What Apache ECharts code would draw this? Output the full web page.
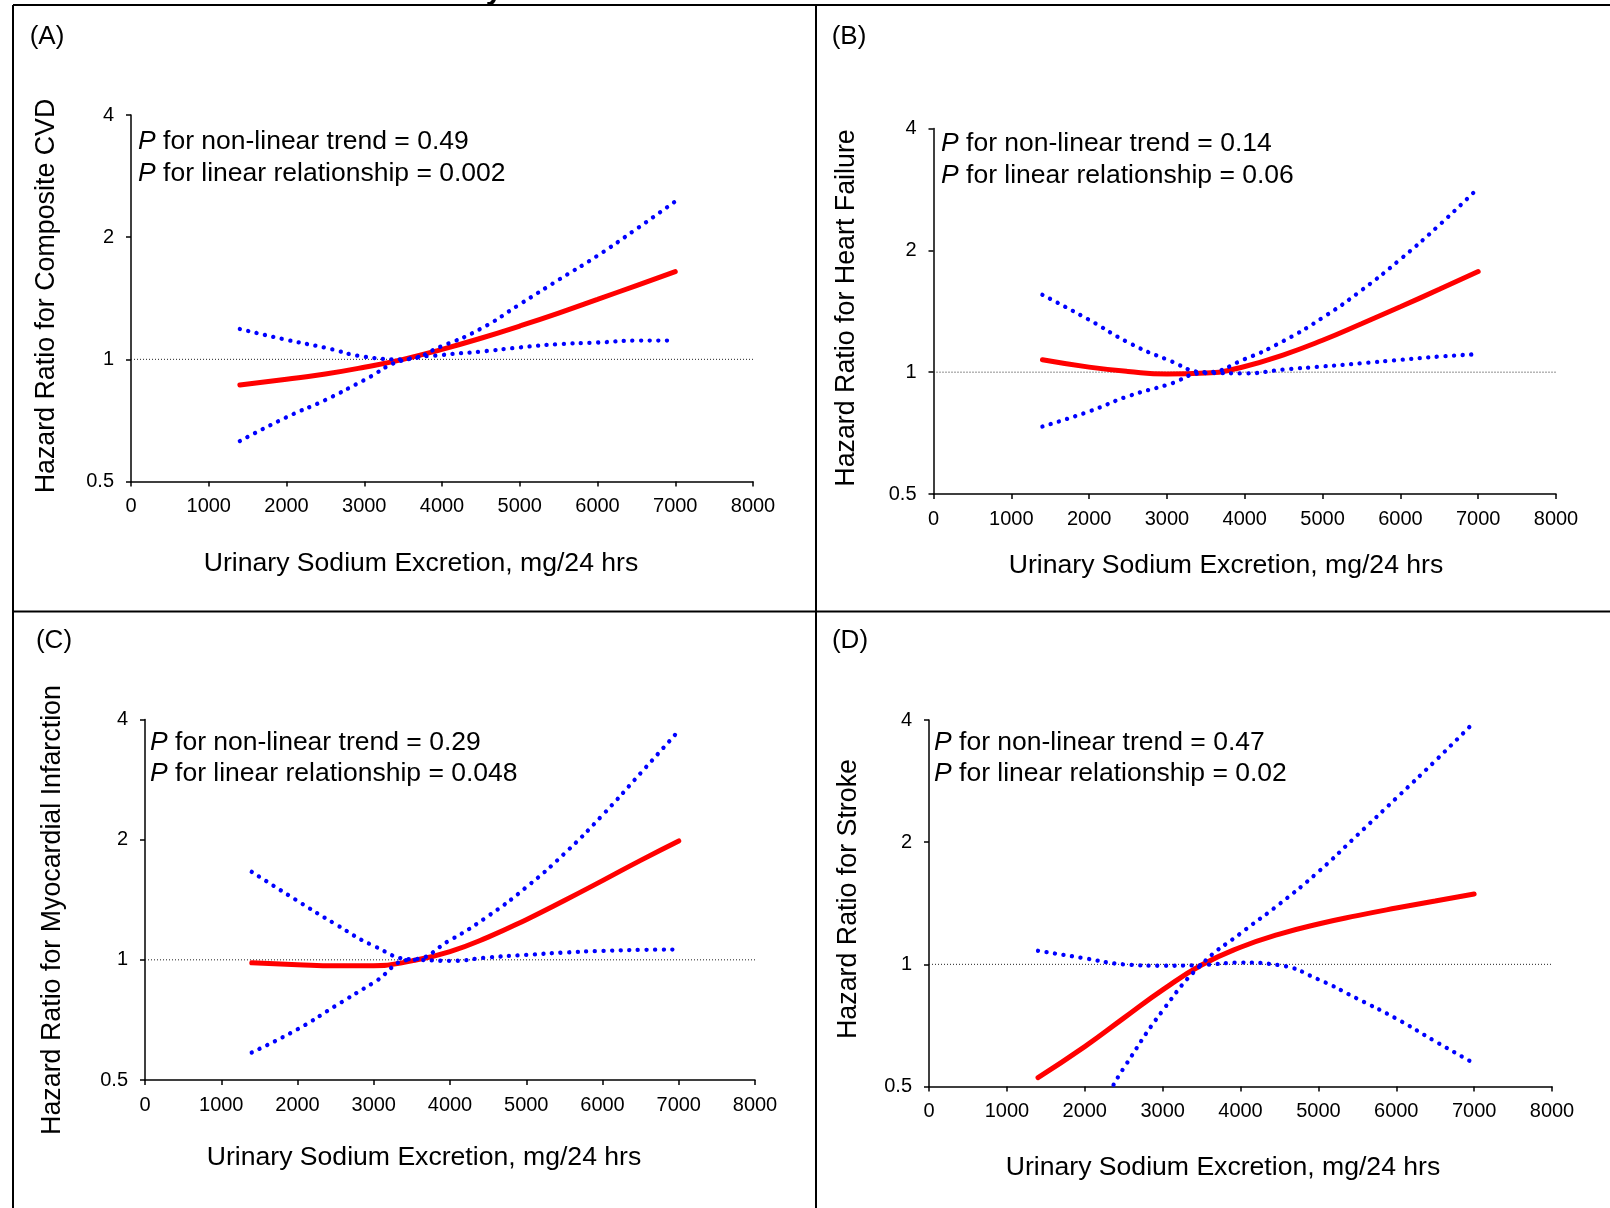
<!DOCTYPE html>
<html>
<head>
<meta charset="utf-8">
<title>Urinary sodium excretion and hazard ratios</title>
<script src="https://cdn.jsdelivr.net/npm/echarts@6/dist/echarts.min.js"></script>
<style>
    html, body { margin: 0; padding: 0; background: #fff; }
    #chart { width: 1610px; height: 1208px; }
</style>
</head>
<body>
<div id="chart"></div>
<script>
    var sodium = [1400, 2000, 2500, 3000, 3500, 4000, 4500, 5000, 5500, 6000, 6500, 7000];

    // (A) composite CVD
    var cvdHR    = [0.865, 0.893, 0.92, 0.956, 1.0, 1.058, 1.127, 1.208, 1.30, 1.405, 1.52, 1.645];
    var cvdLower = [0.629, 0.72, 0.794, 0.889, 0.995, 1.025, 1.045, 1.07, 1.09, 1.10, 1.112, 1.112];
    var cvdUpper = [1.188, 1.117, 1.068, 1.015, 1.0, 1.078, 1.19, 1.366, 1.57, 1.80, 2.095, 2.45];

    // (B) heart failure
    var hfHR    = [1.073, 1.029, 1.004, 0.99, 0.995, 1.033, 1.104, 1.199, 1.317, 1.451, 1.602, 1.773];
    var hfLower = [0.734, 0.80, 0.872, 0.93, 0.995, 0.993, 1.015, 1.033, 1.052, 1.073, 1.093, 1.108];
    var hfUpper = [1.553, 1.347, 1.185, 1.075, 1.0, 1.077, 1.195, 1.363, 1.593, 1.901, 2.309, 2.85];

    // (C) myocardial infarction
    var miHR    = [0.983, 0.972, 0.966, 0.966, 0.994, 1.049, 1.14, 1.261, 1.408, 1.579, 1.775, 1.985];
    var miLower = [0.586, 0.67, 0.767, 0.877, 1.0, 0.994, 1.014, 1.029, 1.043, 1.053, 1.059, 1.061];
    var miUpper = [1.661, 1.405, 1.228, 1.084, 1.004, 1.12, 1.287, 1.52, 1.845, 2.304, 2.936, 3.75];

    // (D) stroke - the rising bound only enters the plot at ~2370
    var strokeHR      = [0.526, 0.627, 0.737, 0.865, 0.996, 1.102, 1.187, 1.257, 1.318, 1.376, 1.433, 1.49];
    var strokeFalling = [1.08, 1.035, 1.0, 0.992, 0.996, 1.01, 0.995, 0.918, 0.823, 0.735, 0.646, 0.57];
    var strokeRiseX   = [2370, 2500, 3000, 3500, 4000, 4500, 5000, 5500, 6000, 6500, 7000];
    var strokeRising  = [0.505, 0.555, 0.769, 1.0, 1.192, 1.408, 1.691, 2.081, 2.567, 3.17, 3.95];

    var refLineX = [0, 8000];
    var panelLetters = ['(A)', '(B)', '(C)', '(D)'];
    var yTitles = ['Hazard Ratio for Composite CVD', 'Hazard Ratio for Heart Failure',
                   'Hazard Ratio for Myocardial Infarction', 'Hazard Ratio for Stroke'];
    var xTitle = 'Urinary Sodium Excretion, mg/24 hrs';
    var pNonLinear = ['0.49', '0.14', '0.29', '0.47'];
    var pLinear = ['0.002', '0.06', '0.048', '0.02'];

    var FONT = "'Liberation Sans', Arial, Helvetica, sans-serif";

    var grids = [
        {left: 131, top: 115, width: 622, height: 366.5},
        {left: 933.5, top: 128.5, width: 622.5, height: 365.5},
        {left: 145, top: 719.5, width: 610, height: 360.5},
        {left: 929, top: 720, width: 623, height: 366.5}
    ];

    function pairs(xs, ys) {
        var out = [];
        for (var i = 0; i < ys.length; i++) out.push([xs[i], ys[i]]);
        return out;
    }

    function redLine(i, xs, ys) {
        return {
            type: 'line', xAxisIndex: i, yAxisIndex: i, data: pairs(xs, ys),
            showSymbol: false, smooth: 0.5, z: 3,
            lineStyle: {color: '#ff0000', width: 5, cap: 'round'}
        };
    }
    function blueDots(i, xs, ys) {
        return {
            type: 'line', xAxisIndex: i, yAxisIndex: i, data: pairs(xs, ys),
            showSymbol: false, smooth: 0.5, z: 4,
            lineStyle: {color: '#0000ff', width: 4.3, type: [0.1, 8.5], cap: 'round'}
        };
    }
    function refLine(i) {
        return {
            type: 'line', xAxisIndex: i, yAxisIndex: i,
            data: pairs(refLineX, [1, 1]), showSymbol: false, z: 2,
            lineStyle: {color: '#222', width: 1, type: [1, 2]}
        };
    }

    var xAxes = [], yAxes = [];
    for (var i = 0; i < 4; i++) {
        xAxes.push({
            gridIndex: i, type: 'value', min: 0, max: 8000, interval: 1000,
            axisLine: {show: true, onZero: false, lineStyle: {color: '#000', width: 1.5}},
            axisTick: {show: true, length: 5, lineStyle: {color: '#000', width: 1.5}},
            axisLabel: {
                color: '#000', fontSize: 20, fontFamily: FONT, margin: 15,
                formatter: function (v) { return String(v); }
            },
            splitLine: {show: false}
        });
        yAxes.push({
            gridIndex: i, type: 'log', logBase: 2, min: 0.5, max: 4,
            axisLine: {show: true, onZero: false, lineStyle: {color: '#000', width: 1.5}},
            axisTick: {show: true, length: 5, lineStyle: {color: '#000', width: 1.5}},
            axisLabel: {
                color: '#000', fontSize: 20, fontFamily: FONT, margin: 17,
                formatter: function (v) { return String(+(+v).toFixed(2)); }
            },
            splitLine: {show: false}
        });
    }

    var series = [
        refLine(0), redLine(0, sodium, cvdHR), blueDots(0, sodium, cvdLower), blueDots(0, sodium, cvdUpper),
        refLine(1), redLine(1, sodium, hfHR), blueDots(1, sodium, hfLower), blueDots(1, sodium, hfUpper),
        refLine(2), redLine(2, sodium, miHR), blueDots(2, sodium, miLower), blueDots(2, sodium, miUpper),
        refLine(3), redLine(3, sodium, strokeHR), blueDots(3, sodium, strokeFalling), blueDots(3, strokeRiseX, strokeRising)
    ];

    // text placement per panel
    var letterPos = [[47, 37], [849, 37], [54, 641], [850, 641]];
    var yTitlePos = [[47, 296], [847, 308], [53, 910], [849, 899]];
    var xTitlePos = [[421, 564], [1226, 566], [424, 1158], [1223, 1168]];
    var pPos = [[138, 142, 174], [941, 144, 176], [150, 743, 774], [934, 743, 774]];

    function txt(x, y, text, size, align, rot, extra) {
        var st = {
            text: text, fill: '#000', fontSize: size, fontFamily: FONT,
            align: align, textAlign: align, verticalAlign: 'middle', textVerticalAlign: 'middle'
        };
        if (extra) for (var k in extra) st[k] = extra[k];
        return {type: 'text', x: x, y: y, rotation: rot || 0, style: st, z: 10};
    }
    function ln(x1, y1, x2, y2) {
        return {type: 'line', shape: {x1: x1, y1: y1, x2: x2, y2: y2},
                style: {stroke: '#000', lineWidth: 2}, z: 10};
    }

    var graphics = [
        ln(13, 5, 1610, 5), ln(13, 5, 13, 1208), ln(816, 5, 816, 1208), ln(13, 611.5, 1610, 611.5),
        // tail of the cropped figure title above the frame
        txt(494, -9, 'y', 30, 'center', 0, {fontWeight: 'bold'})
    ];
    var italicP = {i: {fontStyle: 'italic', fontSize: 26.5, fontFamily: FONT, fill: '#000'}};
    for (var p = 0; p < 4; p++) {
        graphics.push(txt(letterPos[p][0], letterPos[p][1], panelLetters[p], 26, 'center'));
        graphics.push(txt(yTitlePos[p][0], yTitlePos[p][1], yTitles[p], 26.8, 'center', Math.PI / 2));
        graphics.push(txt(xTitlePos[p][0], xTitlePos[p][1], xTitle, 26.6, 'center'));
        graphics.push(txt(pPos[p][0], pPos[p][1], '{i|P} for non-linear trend = ' + pNonLinear[p], 26.5, 'left', 0, {rich: italicP}));
        graphics.push(txt(pPos[p][0], pPos[p][2], '{i|P} for linear relationship = ' + pLinear[p], 26.5, 'left', 0, {rich: italicP}));
    }

    var chart = echarts.init(document.getElementById('chart'));
    chart.setOption({
        animation: false,
        backgroundColor: '#fff',
        grid: grids,
        xAxis: xAxes,
        yAxis: yAxes,
        series: series,
        graphic: {elements: graphics}
    });
</script>
</body>
</html>
